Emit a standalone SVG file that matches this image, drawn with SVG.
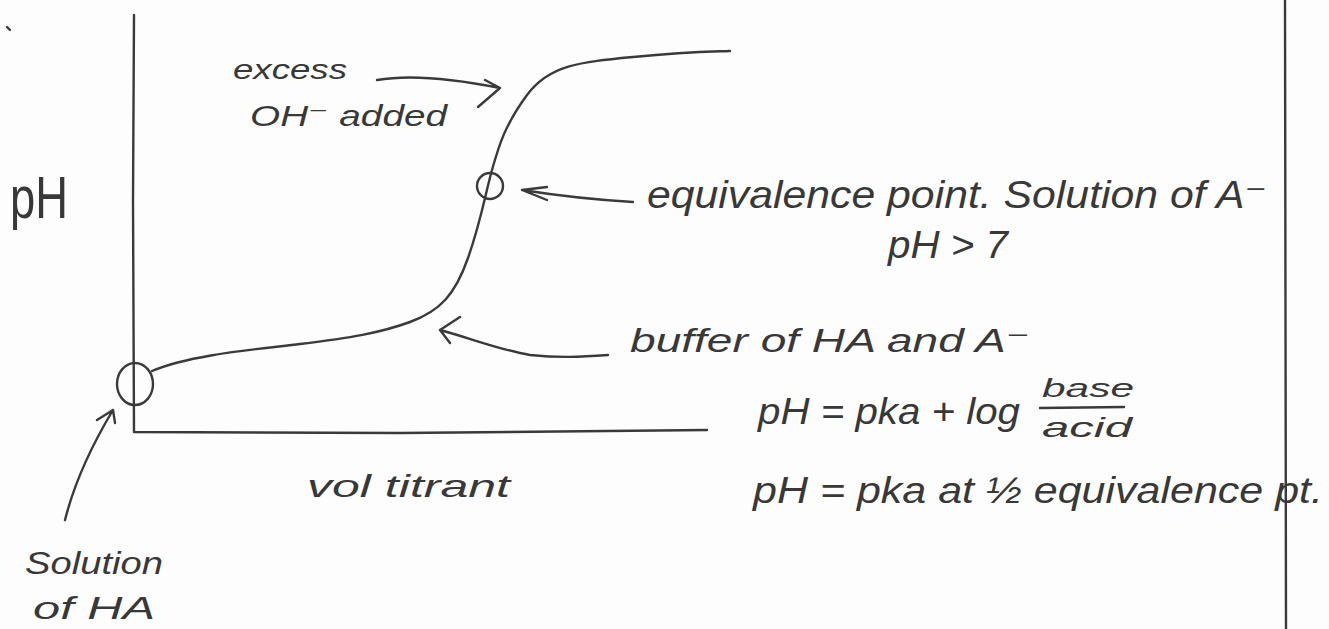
<svg xmlns="http://www.w3.org/2000/svg" width="1329" height="629" viewBox="0 0 1329 629">
<style>
.ln{fill:none;stroke:#3a3a3a;stroke-width:2.4;stroke-linecap:round;stroke-linejoin:round}
.tx{font-family:"Liberation Sans","DejaVu Sans",sans-serif;font-style:italic;fill:#383838}
.up{font-style:normal}
</style>
<rect width="1329" height="629" fill="#fdfdfd"/>
<g id="axes">
<path class="ln" d="M134 15 L133 200 L134 432 L400 433 L707 430"/>
<path class="ln" d="M1285 0 L1286 629" stroke-width="1.8"/>
<path class="ln" d="M7 27 L10 30" stroke-width="1.5"/>
</g>
<g id="curve">
<path class="ln" d="M152 371 C190 355 250 350 300 344 S380 333 410 322 S455 295 468 258 S485 195 492 170 S505 125 527 95 S580 62 633 57 S700 52 730 51"/>
</g>
<g id="start-point"><ellipse class="ln" cx="135" cy="384" rx="18" ry="21"/></g>
<g id="equivalence-point"><ellipse class="ln" cx="490" cy="186" rx="13" ry="13"/></g>
<g id="connectors">
<path class="ln" d="M377 80 C400 76 440 76 500 88 M485 80 L500 88 L478 107"/>
<path class="ln" d="M633 202 C600 200 560 196 522 190 M547 187 L522 190 L547 200"/>
<path class="ln" d="M608 355 C580 357 560 358 530 355 C500 350 470 338 440 330 M460 317 L440 330 L450 343"/>
<path class="ln" d="M65 520 C75 480 92 445 113 410 M97 420 L113 410 L115 423"/>
</g>
<g id="labels">
<text class="tx up" x="10" y="218" font-size="60" textLength="58" lengthAdjust="spacingAndGlyphs">pH</text>
<text class="tx" x="233" y="79" font-size="28" textLength="114" lengthAdjust="spacingAndGlyphs">excess</text>
<text class="tx" x="250" y="126" font-size="30" textLength="197" lengthAdjust="spacingAndGlyphs">OH⁻ added</text>
<text class="tx" x="647" y="208" font-size="38" textLength="620" lengthAdjust="spacingAndGlyphs">equivalence point. Solution of A⁻</text>
<text class="tx" x="888" y="258" font-size="38" textLength="120" lengthAdjust="spacingAndGlyphs">pH &gt; 7</text>
<text class="tx" x="630" y="352" font-size="34" textLength="400" lengthAdjust="spacingAndGlyphs">buffer of HA and A⁻</text>
<text class="tx" x="758" y="424" font-size="36" textLength="262" lengthAdjust="spacingAndGlyphs">pH = pka + log</text>
<text class="tx" x="1042" y="397" font-size="26" textLength="92" lengthAdjust="spacingAndGlyphs">base</text>
<path class="ln" d="M1040 408 L1124 407" stroke-width="2"/>
<text class="tx" x="1042" y="437" font-size="28" textLength="90" lengthAdjust="spacingAndGlyphs">acid</text>
<text class="tx" x="753" y="503" font-size="36" textLength="570" lengthAdjust="spacingAndGlyphs">pH = pka at ½ equivalence pt.</text>
<text class="tx" x="307" y="497" font-size="32" textLength="203" lengthAdjust="spacingAndGlyphs">vol titrant</text>
<text class="tx" x="25" y="574" font-size="32" textLength="138" lengthAdjust="spacingAndGlyphs">Solution</text>
<text class="tx" x="33" y="619" font-size="32" textLength="122" lengthAdjust="spacingAndGlyphs">of HA</text>
</g>
</svg>
